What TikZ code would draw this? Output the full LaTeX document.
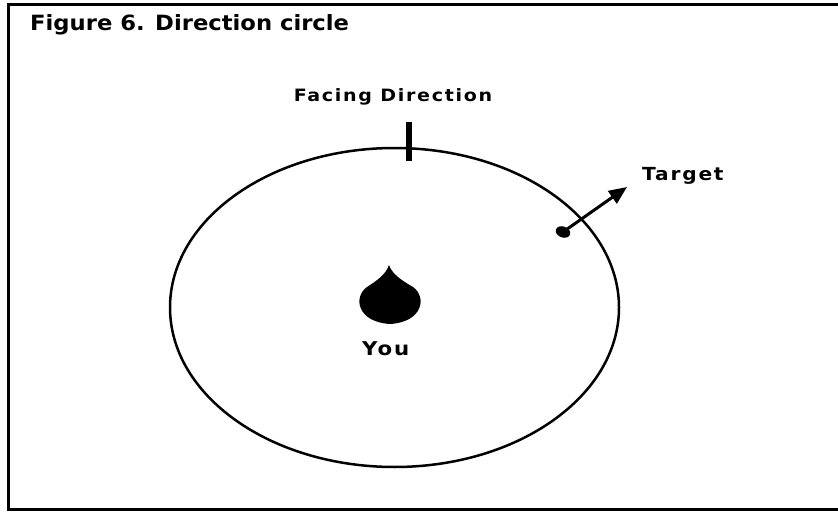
\documentclass[tikz,border=0pt]{standalone}
\usepackage{fontspec}
\setmainfont{DejaVu Sans}
\newfontfamily\titlefont[FakeStretch=1.08]{DejaVu Sans}
\newfontfamily\labelfont[FakeStretch=1.12,LetterSpace=10]{DejaVu Sans}
\usetikzlibrary{arrows.meta,shapes.geometric}
\begin{document}
\begin{tikzpicture}[x=1pt,y=-1pt,
  lbl/.style={inner sep=0pt,font=\labelfont\bfseries},
  frame/.style={draw=black,line width=3pt},
  ring/.style={draw=black,line width=2.5pt}]
\useasboundingbox (0,0) rectangle (838,513);
\clip (0,0) rectangle (838,513);
\fill[white] (0,0) rectangle (838,513);
\draw[frame] (8,5) rectangle (850,509);
\node[anchor=base west,inner sep=0pt,font=\titlefont\bfseries\fontsize{21}{25}\selectfont] (title) at (30,31) {Figure 6. Direction circle};
\draw[ring] (394.5,307.5) ellipse [x radius=224.5, y radius=159.5];
\node[lbl,anchor=base,font=\labelfont\bfseries\fontsize{17}{20}\selectfont] (facing) at (393,102) {Facing Direction};
\coordinate (tickTop) at (409,122);
\coordinate (tickBot) at (409,161);
\draw[line width=6pt] (tickTop) -- (tickBot);
% You marker
\fill[black] (389,265) .. controls (386,274) and (378,280) .. (367,287)
  .. controls (353,297) and (357,322) .. (390,324)
  .. controls (423,322) and (427,297) .. (413,287)
  .. controls (401,280) and (392,274) .. (389,265) -- cycle;
\coordinate (you) at (390,300);
\node[lbl,anchor=base west,font=\labelfont\bfseries\fontsize{19}{22}\selectfont] (youlbl) at (362,355) {You};
% Target
\node[shape=ellipse,fill=black,minimum width=15pt,minimum height=11pt,inner sep=0pt,rotate=-20] (dot) at (563,232) {};
\coordinate (tip) at (627,187);
\draw[line width=3pt,-{Triangle[length=18pt,width=15pt]}] (dot.center) -- (tip);
\node[lbl,anchor=base west,font=\labelfont\bfseries\fontsize{18}{21}\selectfont] (target) at (642,181) {Target};
\end{tikzpicture}
\end{document}
